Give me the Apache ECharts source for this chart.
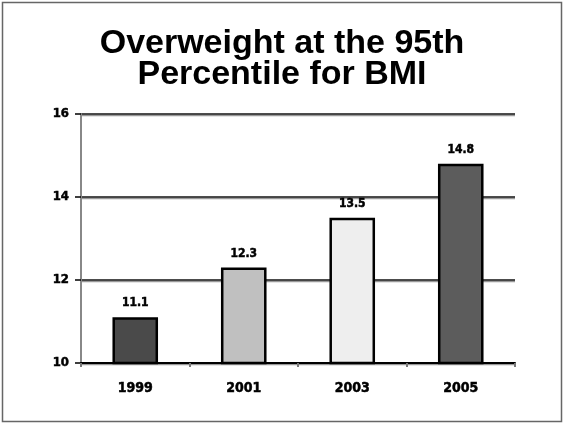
<!DOCTYPE html>
<html>
<head>
<meta charset="utf-8">
<script src="https://cdn.jsdelivr.net/npm/echarts@6/dist/echarts.min.js"></script>
<style>
  html, body { margin: 0; padding: 0; background: #fff; }
  #chart { width: 564px; height: 424px; }
</style>
</head>
<body>
<div id="chart"></div>
<script>
// Share of children at or above the 95th BMI percentile, by survey year
const years = ['1999', '2001', '2003', '2005'];
const values = [11.1, 12.3, 13.5, 14.8];
const barColors = ['#4a4a4a', '#c0c0c0', '#eeeeee', '#5c5c5c'];
const yTicks = [10, 12, 14, 16];

const chart = echarts.init(document.getElementById('chart'), null, { renderer: 'canvas' });

const narrow = '"Liberation Sans Narrow", "Arial Narrow", "DejaVu Sans Condensed", sans-serif';
const labelFont = (size) => ({
  fontFamily: narrow,
  fontWeight: 'bold',
  fontSize: size,
  color: '#000',
  textBorderColor: '#000',
  textBorderWidth: 0.5
});

chart.setOption({
  animation: false,
  backgroundColor: '#fff',
  title: {
    text: 'Overweight at the 95th\nPercentile for BMI',
    left: 'center',
    top: 23,
    textStyle: {
      fontFamily: '"Liberation Sans", Arial, sans-serif',
      fontWeight: 'bold',
      fontSize: 34,
      lineHeight: 31,
      color: '#000'
    }
  },
  graphic: [{
    type: 'rect',
    shape: { x: 2.5, y: 2.5, width: 559, height: 419 },
    style: { fill: 'none', stroke: '#666', lineWidth: 1.5 },
    silent: true
  }],
  grid: { left: 81, right: 49, top: 114, bottom: 61 },
  xAxis: {
    type: 'category',
    data: years,
    axisLine: { lineStyle: { color: '#000', width: 2, shadowColor: '#999', shadowOffsetY: 1 } },
    axisTick: { show: true, length: 4, lineStyle: { color: '#777', width: 2 } },
    axisLabel: Object.assign({ margin: 18 }, labelFont(14))
  },
  yAxis: {
    type: 'value',
    min: yTicks[0],
    max: yTicks[yTicks.length - 1],
    interval: 2,
    axisLine: { show: true, lineStyle: { color: '#888', width: 2 } },
    axisTick: { show: true, length: 6, lineStyle: { color: '#000', width: 1.5 } },
    axisLabel: Object.assign({ margin: 12 }, labelFont(13))
  ,
    splitLine: {
      show: true,
      lineStyle: { color: '#111', width: 1.5, shadowColor: '#999', shadowOffsetY: 1.5 }
    }
  },
  series: [{
    type: 'bar',
    barWidth: '42%',
    data: values.map((v, i) => ({
      value: v,
      itemStyle: { color: barColors[i] }
    })),
    itemStyle: { borderColor: '#000', borderWidth: 2.5 },
    label: Object.assign({ show: true, position: 'top', distance: 8 }, labelFont(12))
  }]
});
</script>
</body>
</html>
